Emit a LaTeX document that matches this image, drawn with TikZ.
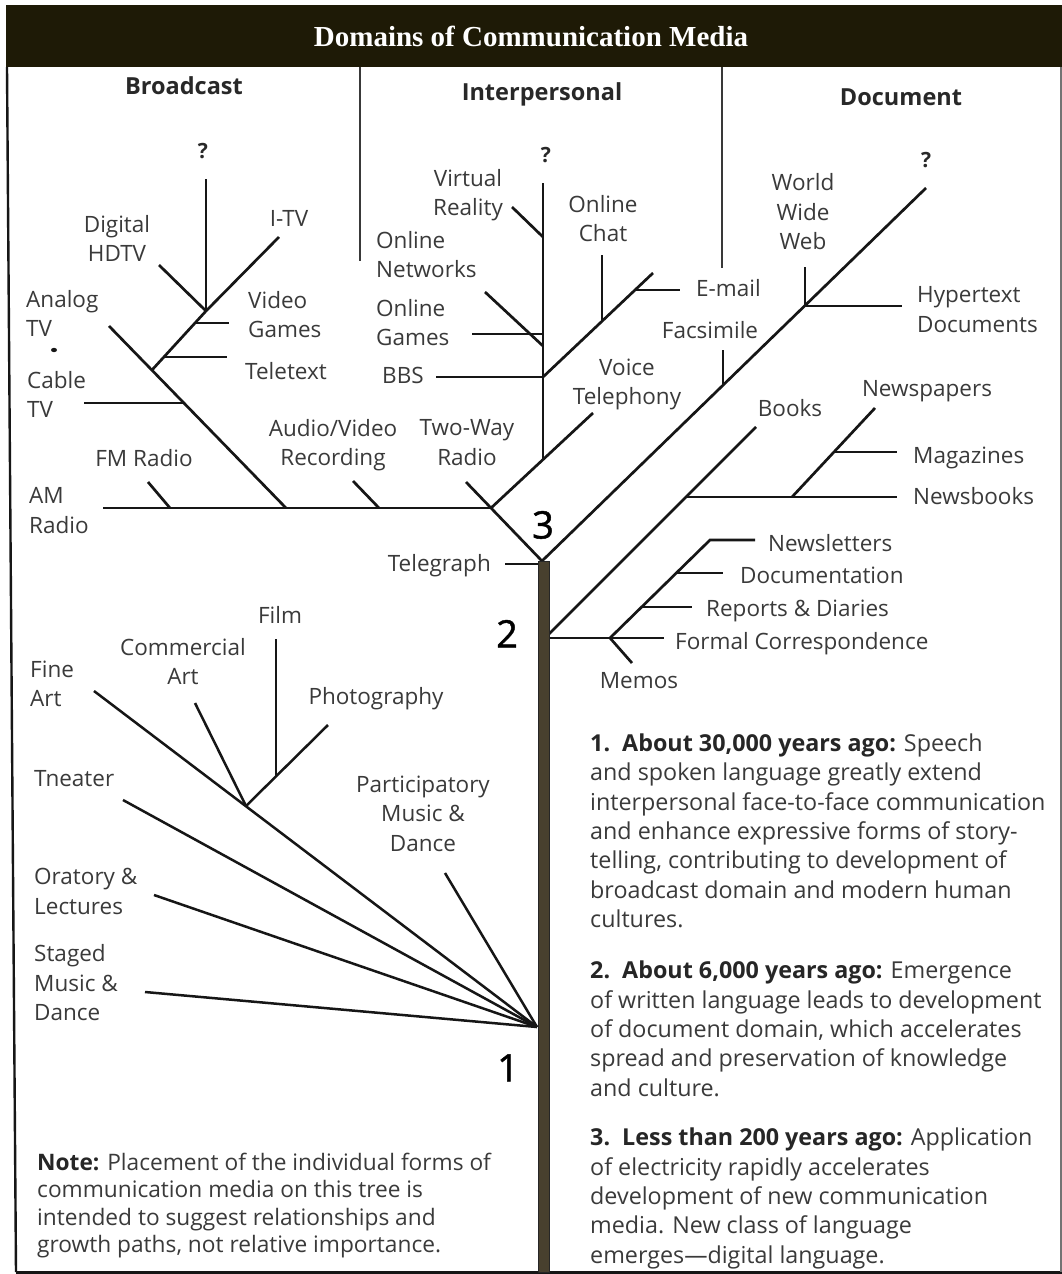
\documentclass[tikz,border=0pt]{standalone}
\usepackage{fontspec}
\setmainfont{Open Sans}
\newfontfamily\ttlfont{Liberation Serif}
\newfontfamily\numfont[FakeBold=1.2]{Open Sans}
\definecolor{barc}{RGB}{30,26,6}
\definecolor{trunkc}{RGB}{72,64,46}
\definecolor{linec}{RGB}{22,22,22}
\definecolor{txtc}{RGB}{58,58,58}
\definecolor{hdc}{RGB}{40,40,40}
\newcommand{\lblfont}{\fontsize{22.5}{29.5}\selectfont}
\newcommand{\bodyfont}{\fontsize{23.3}{29.33}\selectfont}
\newcommand{\notefont}{\fontsize{22.7}{27.3}\selectfont}
\begin{document}
\begin{tikzpicture}[x=1pt,y=-1pt,
  lab/.style={font=\lblfont, text=txtc, inner sep=0pt, execute at begin node=\strut, execute at end node=\strut},
  labl/.style={lab, anchor=west, align=left},
  labc/.style={lab, anchor=center, align=center},
  labr/.style={lab, anchor=east, align=right},
  hdr/.style={font=\fontsize{23.5}{28}\selectfont\bfseries, text=hdc, inner sep=0pt, text height=17pt, text depth=0pt},
  qm/.style={font=\fontsize{21}{24}\selectfont\bfseries, text=hdc, inner sep=0pt, text height=15pt, text depth=0pt},
  num/.style={font=\numfont\fontsize{38}{40}\selectfont, text=black, inner sep=0pt, text height=27pt, text depth=0pt},
  br/.style={draw=linec, line width=2.7pt},
  fan/.style={draw=linec, line width=2.5pt},
  divl/.style={draw=linec!85, line width=1.6pt},
  body/.style={font=\bodyfont, text=txtc, inner sep=0pt, anchor=west, align=left, execute at begin node=\strut, execute at end node=\strut},
]
\useasboundingbox (0,0) rectangle (1062,1274);
\fill[white] (0,0) rectangle (1062,1274);
% frame
\fill[barc] (6,5) rectangle (1062,67);
\node[font=\ttlfont\bfseries\fontsize{29}{31}\selectfont, text=white, inner sep=0pt] (title) at (531,36) {Domains of Communication Media};
\draw[line width=2.4pt, linec] (7,67) -- (16,1272);
\draw[line width=3pt, linec] (16,1272) -- (1062,1272);
\draw[line width=1.2pt, linec!60] (1061,67) -- (1061,1272);
% dividers
\coordinate (d1t) at (360,67); \coordinate (d1b) at (360,261);
\coordinate (d2t) at (722,67); \coordinate (d2b) at (722,268);
\draw[divl] (d1t) -- (d1b);
\draw[divl] (d2t) -- (d2b);
% headers
\node[hdr] (hB) at (184,86) {Broadcast};
\node[hdr] (hI) at (542,92) {Interpersonal};
\node[hdr] (hD) at (901,97) {Document};
\node[qm] (qB) at (203,151) {?};
\node[qm] (qI) at (546,155) {?};
\node[qm] (qD) at (926,160) {?};

% ---------- Broadcast ----------
\coordinate (bStemTop) at (206,179);
\coordinate (bJ1) at (206,311);
\coordinate (bHD) at (159,265);
\coordinate (bITV) at (279,237);
\coordinate (bJA) at (152,370);
\coordinate (bVG0) at (195,323); \coordinate (bVG1) at (229,323);
\coordinate (bTT0) at (164,357); \coordinate (bTT1) at (227,357);
\coordinate (bAn) at (109,326); \coordinate (bAnE) at (286,508);
\coordinate (bCT0) at (84,403); \coordinate (bCT1) at (184,403);
\coordinate (bAM) at (103,508); \coordinate (J3) at (491,508);
\coordinate (bFM0) at (148,482); \coordinate (bFM1) at (170,508);
\coordinate (bAV0) at (353,481); \coordinate (bAV1) at (379,508);
\coordinate (bTW) at (466,482);
\coordinate (apex) at (542,561);
\draw[br] (bStemTop) -- (bJ1);
\draw[br] (bHD) -- (bJ1);
\draw[br] (bITV) -- (bJ1) -- (bJA);
\draw[br] (bVG0) -- (bVG1);
\draw[br] (bTT0) -- (bTT1);
\draw[br] (bAn) -- (bAnE);
\draw[br] (bCT0) -- (bCT1);
\draw[br] (bAM) -- (J3);
\draw[br] (bFM0) -- (bFM1);
\draw[br] (bAV0) -- (bAV1);
\draw[br] (bTW) -- (J3) -- (apex);
\fill[linec] (54,350) ellipse (3pt and 2.2pt);

% ---------- Interpersonal ----------
\coordinate (iTop) at (543,183); \coordinate (iJv) at (543,460);
\coordinate (iVT) at (593,413);
\coordinate (iJb) at (543,377);
\coordinate (iEM) at (653,273);
\coordinate (iOC0) at (602,255); \coordinate (iOC1) at (602,321);
\coordinate (iEM0) at (635,290); \coordinate (iEM1) at (680,290);
\coordinate (iVR) at (512,207); \coordinate (iVR1) at (543,237);
\coordinate (iON) at (485,292); \coordinate (iON1) at (543,346);
\coordinate (iOG) at (472,334); \coordinate (iOG1) at (543,334);
\coordinate (iBBS) at (436,377);
\draw[br] (J3) -- (iVT);
\draw[br] (iTop) -- (iJv);
\draw[br] (iJb) -- (iEM);
\draw[br] (iOC0) -- (iOC1);
\draw[br] (iEM0) -- (iEM1);
\draw[br] (iVR) -- (iVR1);
\draw[br] (iON) -- (iON1);
\draw[br] (iOG) -- (iOG1);
\draw[br] (iBBS) -- (iJb);

% ---------- Document ----------
\coordinate (dTop) at (926,188);
\coordinate (dFx0) at (723,350); \coordinate (dFx1) at (723,385);
\coordinate (dWW0) at (805,267); \coordinate (dWW1) at (805,306);
\coordinate (dHT) at (902,306);
\coordinate (dBk0) at (549,634); \coordinate (dBk1) at (756,427);
\coordinate (dNB0) at (686,497); \coordinate (dNB1) at (897,497);
\coordinate (dNP0) at (875,408); \coordinate (dNP1) at (792,497);
\coordinate (dMG0) at (834,452); \coordinate (dMG1) at (897,452);
\coordinate (dFC0) at (549,638); \coordinate (dFC1) at (664,638);
\coordinate (dJm) at (610,638);
\coordinate (dNL0) at (710,540); \coordinate (dNL1) at (755,540);
\coordinate (dMm) at (632,663);
\coordinate (dDc0) at (676,573); \coordinate (dDc1) at (723,573);
\coordinate (dRD0) at (642,607); \coordinate (dRD1) at (692,607);
\coordinate (tg0) at (505,564); \coordinate (tg1) at (539,564);
\draw[br] (apex) -- (dTop);
\draw[br] (dFx0) -- (dFx1);
\draw[br] (dWW0) -- (dWW1) -- (dHT);
\draw[br] (dBk0) -- (dBk1);
\draw[br] (dNB0) -- (dNB1);
\draw[br] (dNP0) -- (dNP1);
\draw[br] (dMG0) -- (dMG1);
\draw[br] (dFC0) -- (dFC1);
\draw[br] (dJm) -- (dNL0) -- (dNL1);
\draw[br] (dJm) -- (dMm);
\draw[br] (dDc0) -- (dDc1);
\draw[br] (dRD0) -- (dRD1);
\draw[br] (tg0) -- (tg1);

% trunk
\filldraw[fill=trunkc, draw=black!85, line width=1pt] (538,561) rectangle (549,1272);

% ---------- fan (1) ----------
\coordinate (fJ) at (537,1027);
\coordinate (fFA) at (94,691);
\coordinate (fJc) at (246,806);
\coordinate (fCA) at (195,703);
\coordinate (fPh) at (328,725);
\coordinate (fFm0) at (276,639); \coordinate (fFm1) at (276,776);
\coordinate (fTh) at (123,800);
\coordinate (fOr) at (154,895);
\coordinate (fSt) at (145,992);
\coordinate (fPa) at (445,873);
\draw[fan] (fFA) -- (fJ);
\draw[fan] (fCA) -- (fJc);
\draw[fan] (fPh) -- (fJc);
\draw[fan] (fFm0) -- (fFm1);
\draw[fan] (fTh) -- (fJ);
\draw[fan] (fOr) -- (fJ);
\draw[fan] (fSt) -- (fJ);
\draw[fan] (fPa) -- (fJ);

% ---------- labels ----------
\node[labc] (lHD) at (117,243) {Digital\\HDTV};
\node[labc] (lITV) at (289,221) {I-TV};
\node[labl] (lVG) at (248,319) {Video\\Games};
\node[labl] (lTT) at (245,374) {Teletext};
\node[labl] (lAn) at (26,318) {Analog\\TV};
\node[labl] (lCT) at (27,399) {Cable\\TV};
\node[labc] (lFM) at (144,461) {FM Radio};
\node[labl] (lAM) at (29,515) {AM\\Radio};
\node[labc] (lAV) at (333,447) {Audio/Video\\Recording};
\node[labc] (lTW) at (467,447) {Two-Way\\Radio};

\node[labc] (lVR) at (468,197) {Virtual\\Reality};
\node[labl] (lON) at (376,259) {Online\\Networks};
\node[labl] (lOG) at (376,327) {Online\\Games};
\node[labl] (lBBS) at (382,378) {BBS};
\node[labc] (lOC) at (603,223) {Online\\Chat};
\node[labl] (lEM) at (696,291) {E-mail};
\node[labc] (lVT) at (627,386) {Voice\\Telephony};

\node[labc] (lWW) at (803,216) {World\\Wide\\Web};
\node[labl] (lHT) at (917,314) {Hypertext\\Documents};
\node[labc] (lFx) at (710,333) {Facsimile};
\node[labc] (lBk) at (790,411) {Books};
\node[labc] (lNP) at (927,391) {Newspapers};
\node[labl] (lMG) at (913,458) {Magazines};
\node[labl] (lNB) at (913,499) {Newsbooks};
\node[labl] (lNL) at (768,546) {Newsletters};
\node[labl] (lDc) at (740,578) {Documentation};
\node[labl] (lRD) at (706,611) {Reports \& Diaries};
\node[labl] (lFC) at (675,644) {Formal Correspondence};
\node[labc] (lMm) at (639,683) {Memos};
\node[labr] (lTG) at (491,566) {Telegraph};

\node[labl] (lFA) at (30,688) {Fine\\Art};
\node[labc] (lCA) at (183,666) {Commercial\\Art};
\node[labc] (lFm) at (280,618) {Film};
\node[labc] (lPh) at (376,699) {Photography};
\node[labl] (lTh) at (34,781) {Tneater};
\node[labl] (lOr) at (34,896) {Oratory \&\\Lectures};
\node[labl] (lSt) at (34,987) {Staged\\Music \&\\Dance};
\node[labc] (lPa) at (423,818) {Participatory\\Music \&\\Dance};

\node[num] (n3) at (543,525) {3};
\node[num] (n2) at (507,634) {2};
\node[num] (n1) at (508,1068) {1};

% ---------- text blocks ----------
\node[font=\notefont, text=txtc, inner sep=0pt, anchor=west, align=left, execute at begin node=\strut, execute at end node=\strut] (note) at (37,1207)
 {\textbf{\color{black!85}Note:} Placement of the individual forms of\\communication media on this tree is\\intended to suggest relationships and\\growth paths, not relative importance.};

\node[body] (p1) at (590,835)
 {\textbf{\color{black!85}1.\ \ About 30,000 years ago:} Speech\\and spoken language greatly extend\\interpersonal face-to-face communication\\and enhance expressive forms of story-\\telling, contributing to development of\\broadcast domain and modern human\\cultures.};
\node[body] (p2) at (590,1033)
 {\textbf{\color{black!85}2.\ \ About 6,000 years ago:} Emergence\\of written language leads to development\\of document domain, which accelerates\\spread and preservation of knowledge\\and culture.};
\node[body] (p3) at (590,1200)
 {\textbf{\color{black!85}3.\ \ Less than 200 years ago:} Application\\of electricity rapidly accelerates\\development of new communication\\media. New class of language\\emerges—digital language.};
\end{tikzpicture}
\end{document}
